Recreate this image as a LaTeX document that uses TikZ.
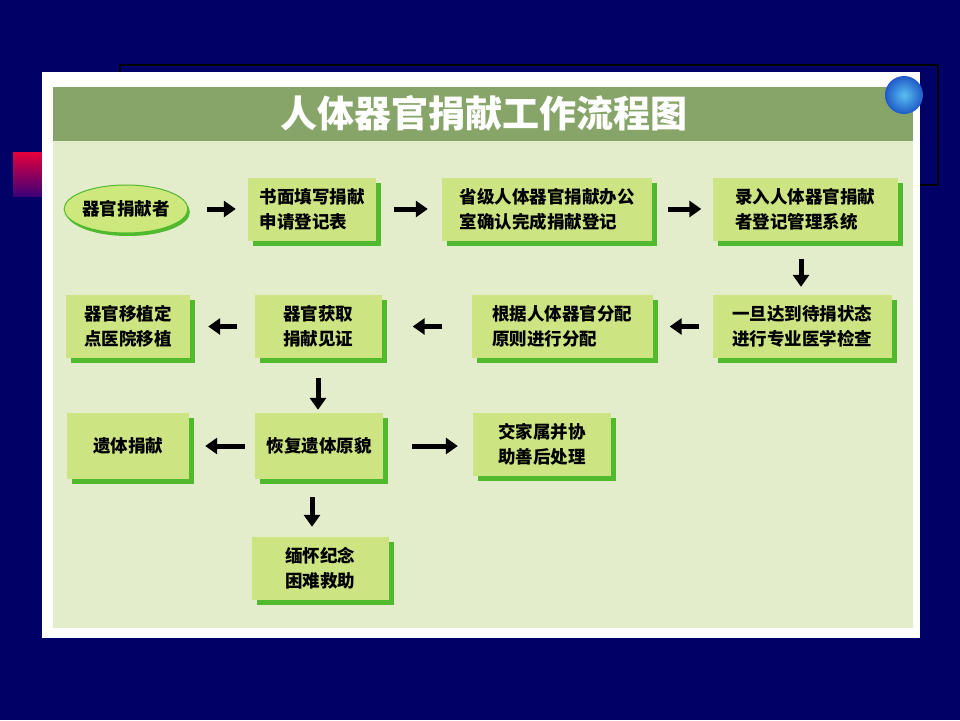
\documentclass[tikz,border=0pt]{standalone}
\usepackage{fontspec}
\newfontfamily\cjk{Noto Sans CJK SC}
\usetikzlibrary{arrows.meta, shadows, shapes.geometric}

\definecolor{navy}{RGB}{0,0,102}
\definecolor{titlegreen}{RGB}{135,165,105}
\definecolor{paper}{RGB}{227,236,203}
\definecolor{boxfill}{RGB}{205,228,130}
\definecolor{boxedge}{RGB}{80,185,45}

\begin{document}
\begin{tikzpicture}[x = 1pt, y = -1pt,
 box/.style = {fill = boxfill, minimum height = 63, inner sep = 0, align = left,
  font = \cjk\bfseries\fontsize{17.5}{25}\selectfont,
  drop shadow = {shadow xshift = 5pt, shadow yshift = -5pt, fill = boxedge, opacity = 1}},
 flow/.style = {line width = 5pt, -{Triangle[length = 12pt, width = 16pt]}}]
 \useasboundingbox (0, 0) rectangle (960, 720);
 \fill[navy] (0, 0) rectangle (960, 720);
 \draw[black, line width = 1.2pt] (120, 65) rectangle (938, 185);
 \shade[top color = {rgb,255:red,230;green,0;blue,60}, bottom color = {rgb,255:red,60;green,0;blue,120}]
 (13, 152) rectangle (42, 196);
 \fill[white] (42, 72) rectangle (920, 638);
 \fill[paper] (53, 141) rectangle (913, 628);
 \fill[titlegreen] (53, 87) rectangle (913, 141);
 \node[text = white, font = \cjk\bfseries\fontsize{37}{40}\selectfont] (title) at (484, 113) {人体器官捐献工作流程图};
 \shade[inner color = {rgb,255:red,90;green,190;blue,240}, outer color = {rgb,255:red,30;green,90;blue,200}]
 (904, 95) circle (19);

 \node[ellipse, fill = {rgb,255:red,205;green,232;blue,125}, draw = boxedge, line width = 1pt,
  minimum width = 116, minimum height = 48, inner sep = 0,
  font = \cjk\bfseries\fontsize{17.5}{25}\selectfont,
  drop shadow = {shadow xshift = 2pt, shadow yshift = -3pt, fill = boxedge, opacity = 1}] (donor) at (126, 209) {器官捐献者};
 \node[box, minimum width = 128] (form) at (312, 209) {书面填写捐献\\申请登记表};
 \node[box, minimum width = 210] (office) at (547, 209) {省级人体器官捐献办公\\室确认完成捐献登记};
 \node[box, minimum width = 185] (system) at (805, 209) {录入人体器官捐献\\者登记管理系统};

 \node[box, minimum width = 124] (hospital) at (128, 326.5) {器官移植定\\点医院移植};
 \node[box, minimum width = 127, align = center] (obtain) at (318, 326.5) {器官获取\\捐献见证};
 \node[box, minimum width = 181] (allocate) at (562, 326.5) {根据人体器官分配\\原则进行分配};
 \node[box, minimum width = 179] (examine) at (802, 326.5) {一旦达到待捐状态\\进行专业医学检查};

 \node[box, minimum width = 122, minimum height = 66] (body) at (128, 446) {遗体捐献};
 \node[box, minimum width = 128, minimum height = 66] (restore) at (319, 446) {恢复遗体原貌};
 \node[box, minimum width = 138, align = center] (family) at (542, 444.5) {交家属并协\\助善后处理};
 \node[box, minimum width = 137, align = center] (memorial) at (320, 568.5) {缅怀纪念\\困难救助};

 \draw[flow, shorten <= 19pt, shorten >= 12pt] (donor.east) -- (form.west);
 \draw[flow, shorten <= 18pt, shorten >= 14pt] (form.east) -- (office.west);
 \draw[flow, shorten <= 16pt, shorten >= 11pt] (office.east) -- (system.west);
 \draw[flow, shorten <= 18pt, shorten >= 8pt] ([xshift = -4pt]system.south) -- ([xshift = -4pt]system.south |- examine.north);
 \draw[flow, shorten <= 13pt, shorten >= 17pt] (examine.west) -- (allocate.east);
 \draw[flow, shorten <= 29pt, shorten >= 31pt] (allocate.west) -- (obtain.east);
 \draw[flow, shorten <= 17pt, shorten >= 18pt] (obtain.west) -- (hospital.east);
 \draw[flow, shorten <= 20pt, shorten >= 3pt] (obtain.south) -- (obtain.south |- restore.north);
 \draw[flow, shorten <= 10pt, shorten >= 16pt] (restore.west) -- (body.east);
 \draw[flow, shorten <= 29pt, shorten >= 15pt] (restore.east) -- (restore.east -| family.west);
 \draw[flow, shorten <= 18pt, shorten >= 10pt] ([xshift = -7pt]restore.south) -- ([xshift = -7pt]restore.south |- memorial.north);
\end{tikzpicture}
\end{document}
